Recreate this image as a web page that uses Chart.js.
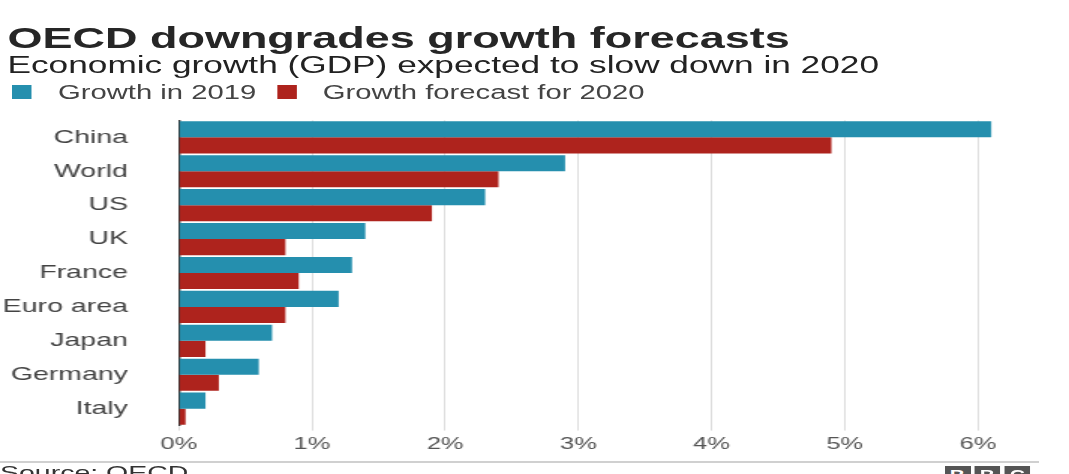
<!DOCTYPE html>
<html>
<head>
<meta charset="utf-8">
<script src="https://cdn.jsdelivr.net/npm/chart.js@4/dist/chart.umd.min.js"></script>
<style>
  html, body { margin: 0; padding: 0; background: #fff; overflow: hidden; }
  body { width: 1069px; height: 474px; font-family: "Liberation Sans", Arial, sans-serif; color: #222; }
  /* the original graphic is stretched sideways, so draw narrow and stretch */
  #wrap { position: absolute; left: 0; top: 0; width: 713px; height: 474px; transform: scaleX(1.4993); transform-origin: 0 0; }
  .title { position: absolute; left: 5px; top: 23px; font-size: 30px; line-height: 30px; font-weight: bold; color: #262626; white-space: nowrap; }
  .subtitle { position: absolute; left: 5px; top: 54px; font-size: 23.5px; line-height: 23.5px; color: #222; white-space: nowrap; }
  .legend { position: absolute; left: 8px; top: 82px; font-size: 19.5px; line-height: 20px; color: #444; white-space: nowrap; }
  .legend .box { position: absolute; top: 3px; width: 12.5px; height: 14px; }
  .legend .lbl { position: absolute; top: 0; }
  #chartBox { position: absolute; left: 0; top: 109px; width: 713px; height: 352px; }
  #chart { display: block; width: 713px; height: 352px; }
  .rule { position: absolute; left: 0; top: 461px; width: 693px; height: 2px; background: #d0d0d0; }
  .source { position: absolute; left: 0; top: 463px; font-size: 19px; line-height: 19px; color: #333; white-space: nowrap; }
  .bbc { position: absolute; top: 466px; width: 17px; height: 20px; background: #555; color: #fff; font-weight: bold; font-size: 14px; text-align: center; line-height: 18px; }
</style>
</head>
<body>
<div id="wrap">
  <div class="title">OECD downgrades growth forecasts</div>
  <div class="subtitle">Economic growth (GDP) expected to slow down in 2020</div>
  <div class="legend" id="legend"></div>
  <div id="chartBox"><canvas id="chart" width="713" height="352"></canvas></div>
  <div class="rule"></div>
  <div class="source">Source: OECD</div>
  <div class="bbc" style="left:630px">B</div>
  <div class="bbc" style="left:650px">B</div>
  <div class="bbc" style="left:670px">C</div>
</div>
<script>
const categories = ["China", "World", "US", "UK", "France", "Euro area", "Japan", "Germany", "Italy"];
const growth2019 = [6.1, 2.9, 2.3, 1.4, 1.3, 1.2, 0.7, 0.6, 0.2];
const forecast2020 = [4.9, 2.4, 1.9, 0.8, 0.9, 0.8, 0.2, 0.3, 0.05];
const seriesNames = ["Growth in 2019", "Growth forecast for 2020"];
const seriesColors = ["#258fae", "#ae231d"];
const xTicks = [0, 1, 2, 3, 4, 5, 6];

// legend (html, positioned like the original)
const legendPos = [[0, 30.7], [177.3, 207.3]];
document.getElementById("legend").innerHTML = seriesNames.map((name, i) => `
  <span class="box" style="left:${legendPos[i][0]}px;background:${seriesColors[i]}"></span>
  <span class="lbl" style="left:${legendPos[i][1]}px">${name}</span>
`).join("");

const ctx = document.getElementById("chart").getContext("2d");
new Chart(ctx, {
  type: "bar",
  data: {
    labels: categories,
    datasets: [
      { label: seriesNames[0], data: growth2019, backgroundColor: seriesColors[0] },
      { label: seriesNames[1], data: forecast2020, backgroundColor: seriesColors[1] }
    ]
  },
  options: {
    indexAxis: "y",
    responsive: false,
    devicePixelRatio: 1,
    animation: false,
    layout: { padding: { top: 0, right: 43, bottom: 2, left: 0 } },
    datasets: { bar: { categoryPercentage: 0.95, barPercentage: 1.0 } },
    plugins: {
      legend: { display: false },
      tooltip: { enabled: false },
      title: { display: false }
    },
    scales: {
      x: {
        min: 0,
        max: 6.2,
        afterBuildTicks: axis => { axis.ticks = xTicks.map(v => ({ value: v })); },
        ticks: {
          includeBounds: false,
          padding: 4,
          color: "#555",
          font: { family: "Liberation Sans", size: 17 },
          callback: v => v + "%"
        },
        grid: { color: "#dddddd", lineWidth: 1, drawTicks: true, tickLength: 5 },
        border: { display: false }
      },
      y: {
        afterFit: axis => { axis.width = 119.3; },
        ticks: {
          padding: 0,
          color: "#444",
          font: { family: "Liberation Sans", size: 19 }
        },
        // invisible tick marks keep the labels away from the axis line
        grid: { display: true, drawOnChartArea: false, drawTicks: true, tickLength: 34, tickColor: "rgba(0,0,0,0)" },
        border: { display: true, color: "#333", width: 1.4 }
      }
    }
  }
});
</script>
</body>
</html>
